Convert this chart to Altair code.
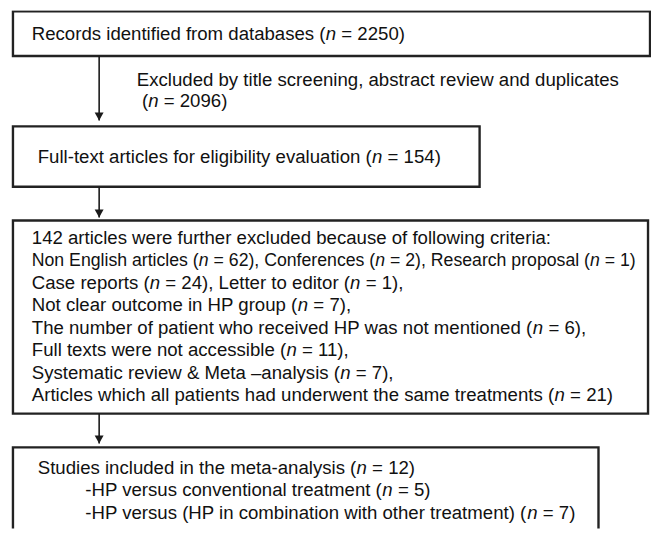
import altair as alt
import pandas as pd

FONT = "Liberation Sans"
FS = 18.8
INK = "#1a1a1a"

# ---- text content (*n* marks an italic n) ----
box1_lines = ["Records identified from databases (*n* = 2250)"]
excl_lines = ["Excluded by title screening, abstract review and duplicates",
              " (*n* = 2096)"]
box2_lines = ["Full-text articles for eligibility evaluation (*n* = 154)"]
box3_lines = [
    "142 articles were further excluded because of following criteria:",
    "Non English articles (*n* = 62), Conferences (*n* = 2), Research proposal (*n* = 1)",
    "Case reports (*n* = 24), Letter to editor (*n* = 1),",
    "Not clear outcome in HP group (*n* = 7),",
    "The number of patient who received HP was not mentioned (*n* = 6),",
    "Full texts were not accessible (*n* = 11),",
    "Systematic review & Meta \u2013analysis (*n* = 7),",
    "Articles which all patients had underwent the same treatments (*n* = 21)",
]
box4_lines = [
    "Studies included in the meta-analysis (*n* = 12)",
    "-HP versus conventional treatment (*n* = 5)",
    "-HP versus (HP in combination with other treatment) (*n* = 7)",
]

# ---- layout in reference pixels ----
box_x = [13, 13, 13, 13]
box_x2 = [656, 484, 654, 604]
box_y = [9, 125, 220, 449]
box_y2 = [54, 186, 415, 570]

arrow_x = [100, 100, 100]
arrow_from = [54, 186, 415]
arrow_tip = [119, 217, 445]

# text blocks: lines, x of each line, font size of each line, y of first line, spacing
blocks = [
    (box1_lines, [32], [FS], 32, 22.5),
    (excl_lines, [138, 138], [FS, FS], 78, 21),
    (box2_lines, [38], [FS], 156, 22.5),
    (box3_lines, [32] * 8, [FS, 17.85] + [FS] * 6, 238, 22.6),
    (box4_lines, [38, 86, 86], [FS] * 3, 470, 22.6),
]

# Arial / Liberation Sans advance widths (per 1000 em)
W = {' ': 278, '(': 333, ')': 333, ',': 278, '-': 333, '.': 278,
     ':': 278, '=': 584, '&': 667, '\u2013': 556}
W.update({c: 556 for c in '0123456789'})
W.update(dict(zip('ABCDEFGHIJKLMNOPQRSTUVWXYZ',
                  [667, 667, 722, 722, 667, 611, 778, 722, 278, 500, 667, 556, 833,
                   722, 778, 667, 778, 722, 667, 611, 722, 667, 944, 667, 667, 611])))
W.update(dict(zip('abcdefghijklmnopqrstuvwxyz',
                  [556, 556, 500, 556, 556, 278, 556, 556, 222, 222, 500, 222, 833,
                   556, 556, 556, 556, 333, 500, 278, 556, 500, 722, 500, 500, 500])))


def width(s, fs):
    return sum(W.get(c, 556) for c in s) * fs / 1000.0


rows = []
for lines, xs, sizes, y0, dy in blocks:
    for i, line in enumerate(lines):
        x, fs = xs[i], sizes[i]
        for k, part in enumerate(line.split("*")):
            body = part.strip(" ")
            if body:
                lead = part[:len(part) - len(part.lstrip(" "))]
                rows.append({"x": x + width(lead, fs), "y": y0 + i * dy, "t": body,
                             "fs": fs, "style": "italic" if k % 2 else "normal"})
            x += width(part, fs)
seg = pd.DataFrame(rows)

boxes = pd.DataFrame({"x": box_x, "x2": box_x2, "y": box_y, "y2": box_y2})
arrows = pd.DataFrame({"x": arrow_x, "y": arrow_from, "y2": arrow_tip})
heads = pd.DataFrame({"x": arrow_x, "y": [t - 4 for t in arrow_tip]})

X0, X1, Y0, Y1 = 8, 657, 8, 531
xs = alt.Scale(domain=[X0, X1], nice=False, zero=False)
ys = alt.Scale(domain=[Y0, Y1], nice=False, zero=False, reverse=True)

rect = alt.Chart(boxes).mark_rect(fill="white", stroke="#222222", strokeWidth=2.4,
                                  clip=True).encode(
    x=alt.X("x:Q", scale=xs, axis=None), x2="x2:Q",
    y=alt.Y("y:Q", scale=ys, axis=None), y2="y2:Q")

rule = alt.Chart(arrows).mark_rule(color=INK, strokeWidth=1.6).encode(
    x=alt.X("x:Q", scale=xs, axis=None),
    y=alt.Y("y:Q", scale=ys, axis=None), y2="y2:Q")

head = alt.Chart(heads).mark_point(shape="M-1,-0.9L1,-0.9L0,0.9Z", size=81,
                                   filled=True, color=INK, opacity=1).encode(
    x=alt.X("x:Q", scale=xs, axis=None),
    y=alt.Y("y:Q", scale=ys, axis=None))


def text_layer(style):
    return alt.Chart(seg).transform_filter(alt.datum.style == style).mark_text(
        align="left", baseline="middle", font=FONT, color="#111111",
        fontStyle=style).encode(
        x=alt.X("x:Q", scale=xs, axis=None),
        y=alt.Y("y:Q", scale=ys, axis=None),
        size=alt.Size("fs:Q", scale=None, legend=None),
        text="t:N")


chart = alt.layer(rect, rule, head, text_layer("normal"), text_layer("italic")).properties(
    width=X1 - X0, height=Y1 - Y0, padding=0,
    autosize=alt.AutoSizeParams(type="none"),
    background="white").configure_view(strokeWidth=0)

chart.save("out.html", embed_options={"renderer": "svg", "actions": False})
